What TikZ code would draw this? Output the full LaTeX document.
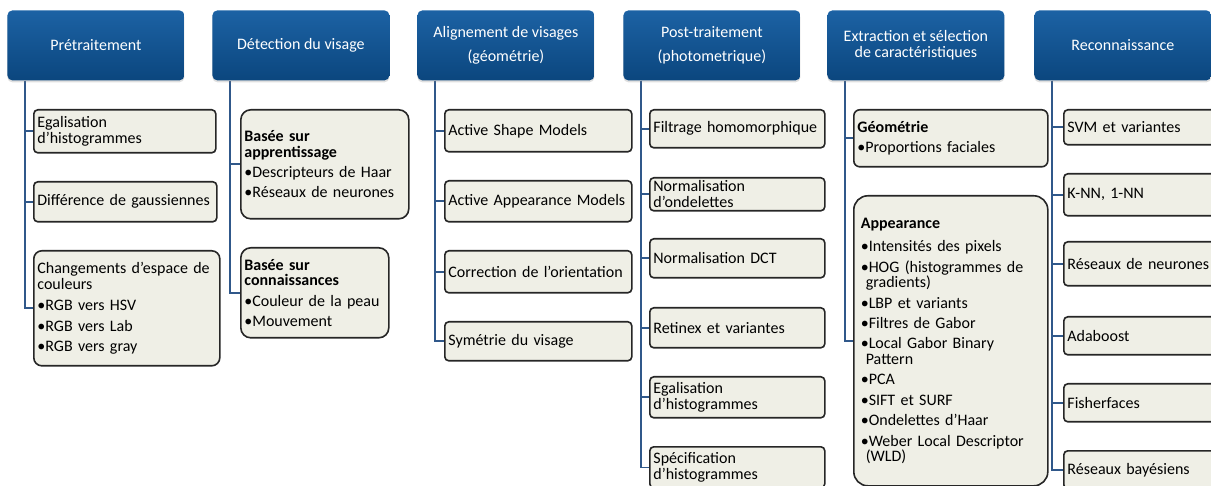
\documentclass[tikz,border=0pt]{standalone}
\usepackage{fontspec}
\setmainfont{Carlito}
\usetikzlibrary{shadows,backgrounds}

\definecolor{hdtop}{RGB}{28,98,164}
\definecolor{hdbot}{RGB}{11,70,126}
\definecolor{trunkblue}{RGB}{48,88,138}
\definecolor{boxfill}{RGB}{239,239,230}
\newcommand\bul{\textbullet}

\tikzset{
	header/.style={rounded corners=2.5pt, top color=hdtop, bottom color=hdbot, text=white,
		align=center, minimum width=88.5pt, minimum height=35pt, anchor=north west,
		font=\fontsize{8}{8.3}\selectfont,
		drop shadow={shadow xshift=0pt, shadow yshift=-1pt, opacity=0.25}},
	leaf/.style={draw=black!85, line width=0.8pt, fill=boxfill, rounded corners=2pt,
		inner xsep=1.8pt, inner ysep=0.5pt, align=left, anchor=north west,
		font=\fontsize{8}{7.8}\selectfont},
	trunk/.style={draw=trunkblue, line width=0.8pt},
}

\begin{document}
\begin{tikzpicture}[x=0.5pt, y=-0.5pt]
	\path[use as bounding box, clip] (0,0) rectangle (1211,486);
	% The column headers
	\foreach \x/\name/\txt in {7/h1/{Prétraitement}, 212/h2/{Détection du visage},
		417/h3/{Alignement de visages\\[4pt](géométrie)}, 623/h4/{Post-traitement\\[4pt](photometrique)},
		827/h5/{Extraction et sélection\\de caractéristiques}, 1034/h6/{Reconnaissance}}
		\node[header] (\name) at (\x,10) {\txt};
	% Start points of the trunks
	\foreach \c in {1,...,6}
		\coordinate (t\c) at ([xshift=9pt]h\c.south west);
	% Column 1
	\node[leaf, text width=87.4pt, minimum height=21.5pt] (a1) at (33,109) {Egalisation\\d’histogrammes};
	\node[leaf, text width=87.9pt, minimum height=20pt] (a2) at (33,181) {Différence de gaussiennes};
	\node[leaf, text width=89.4pt, minimum height=57.5pt, rounded corners=4pt] (a3) at (33,250)
		{Changements d’espace de\\couleurs\\[3pt]\bul RGB vers HSV\\[2.4pt]\bul RGB vers Lab\\[2.4pt]\bul RGB vers gray};
	% Column 2
	\node[leaf, text width=80.4pt, minimum height=54.5pt, rounded corners=5pt] (b1) at (240,109)
		{\textbf{Basée sur\\apprentissage}\\[2.4pt]\bul Descripteurs de Haar\\[2.4pt]\bul Réseaux de neurones\\[6pt]};
	\node[leaf, text width=70.4pt, minimum height=45pt, rounded corners=5pt] (b2) at (240,247)
		{\textbf{Basée sur\\connaissances}\\[2.4pt]\bul Couleur de la peau\\[2.4pt]\bul Mouvement};
	% Column 3
	\node[leaf, text width=89.9pt, minimum height=21pt] (c1) at (444,109) {Active Shape Models};
	\node[leaf, text width=89.9pt, minimum height=20.5pt] (c2) at (444,180) {Active Appearance Models};
	\node[leaf, text width=89.9pt, minimum height=21pt] (c3) at (444,250) {Correction de l’orientation};
	\node[leaf, text width=89.9pt, minimum height=19.5pt] (c4) at (444,321) {Symétrie du visage};
	% Column 4
	\node[leaf, text width=83.9pt, minimum height=19pt] (d1) at (649,109) {Filtrage homomorphique};
	\node[leaf, text width=83.9pt, minimum height=16.5pt] (d2) at (649,177) {Normalisation\\d’ondelettes};
	\node[leaf, text width=83.9pt, minimum height=19.5pt] (d3) at (649,238) {Normalisation DCT};
	\node[leaf, text width=83.9pt, minimum height=20pt] (d4) at (649,307) {Retinex et variantes};
	\node[leaf, text width=83.9pt, minimum height=20.5pt] (d5) at (649,376) {Egalisation\\d’histogrammes};
	\node[leaf, text width=83.9pt, minimum height=20.5pt] (d6) at (649,446) {Spécification\\d’histogrammes};
	% Column 5
	\node[leaf, text width=93.4pt, minimum height=28.5pt, rounded corners=3pt] (e1) at (853,109)
		{\textbf{Géométrie}\\[2.4pt]\bul Proportions faciales};
	\node[leaf, text width=90pt, minimum height=145pt, rounded corners=7pt, inner xsep=3.5pt] (e2) at (853,195)
		{\textbf{Appearance}\\[4pt]\bul Intensités des pixels\\[2.4pt]\bul HOG (histogrammes de\\\hspace*{2.5pt}gradients)%
		\\[2.4pt]\bul LBP et variants\\[2.4pt]\bul Filtres de Gabor\\[2.4pt]\bul Local Gabor Binary\\\hspace*{2.5pt}Pattern%
		\\[2.4pt]\bul PCA\\[2.4pt]\bul SIFT et SURF\\[2.4pt]\bul Ondelettes d’Haar%
		\\[2.4pt]\bul Weber Local Descriptor\\\hspace*{2.5pt}(WLD)};
	% Column 6
	\node[leaf, text width=72.4pt, minimum height=17.5pt] (f1) at (1063,109) {SVM et variantes};
	\node[leaf, text width=72.4pt, minimum height=21pt] (f2) at (1063,173) {K-NN, 1-NN};
	\node[leaf, text width=72.4pt, minimum height=22pt] (f3) at (1063,241) {Réseaux de neurones};
	\node[leaf, text width=72.4pt, minimum height=19pt] (f4) at (1063,316) {Adaboost};
	\node[leaf, text width=72.4pt, minimum height=19pt] (f5) at (1063,383) {Fisherfaces};
	\node[leaf, text width=72.4pt, minimum height=19pt] (f6) at (1063,450) {Réseaux bayésiens};
	% The trunks and branches
	\begin{scope}[on background layer]
	\foreach \b in {a1,a2,a3} \draw[trunk] (t1) |- (\b.west);
	\foreach \b in {b1,b2} \draw[trunk] (t2) |- (\b.west);
	\foreach \b in {c1,c2,c3,c4} \draw[trunk] (t3) |- (\b.west);
	\foreach \b in {d1,d2,d3,d4,d5,d6} \draw[trunk] (t4) |- (\b.west);
	\foreach \b in {e1,e2} \draw[trunk] (t5) |- (\b.west);
	\foreach \b in {f1,f2,f3,f4,f5,f6} \draw[trunk] (t6) |- (\b.west);
	\end{scope}
\end{tikzpicture}
\end{document}
